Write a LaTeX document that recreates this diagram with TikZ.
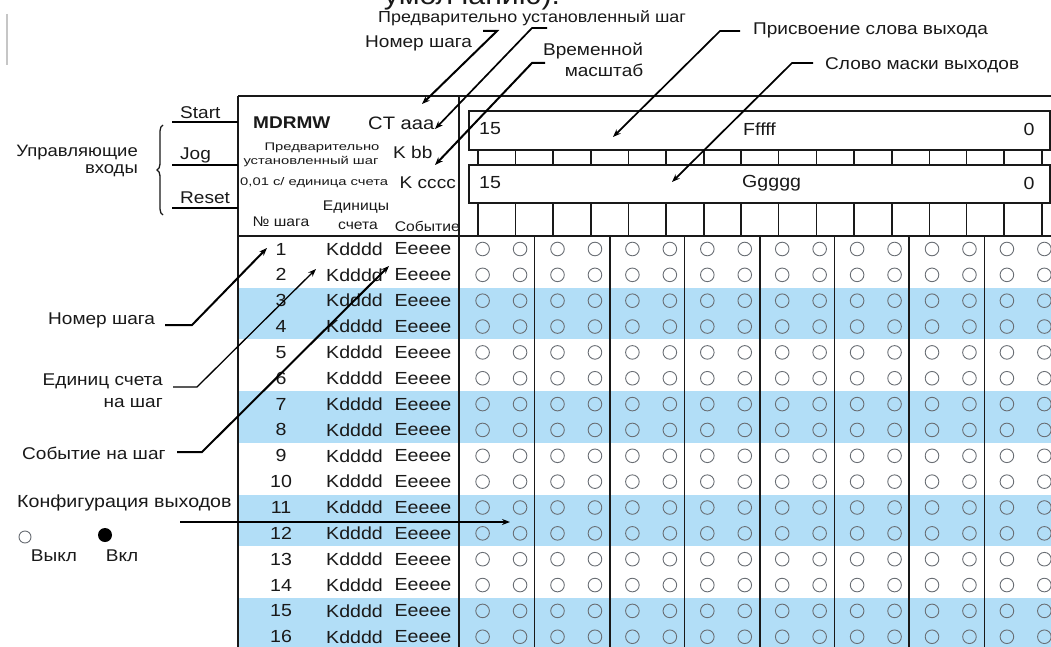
\documentclass[tikz,border=0pt]{standalone}
\usepackage{fontspec}
\setmainfont{Liberation Sans}[FakeStretch=1.12]
\usetikzlibrary{arrows.meta,decorations.pathreplacing}
\definecolor{band}{RGB}{178,222,247}
\definecolor{ink}{RGB}{25,25,25}
\definecolor{ring}{RGB}{105,110,116}
\newcommand{\widen}[1]{\scalebox{1.2}[1]{#1}}
\begin{document}
\begin{tikzpicture}[x=1pt,y=-1pt,
  lbl/.style={inner sep=0pt,text=ink,font=\fontsize{17}{19}\selectfont},
  small/.style={inner sep=0pt,text=ink,font=\fontsize{11}{12}\selectfont},
  mid/.style={inner sep=0pt,text=ink,font=\fontsize{14}{15}\selectfont},
  rowtxt/.style={inner sep=0pt,text=ink,font=\fontsize{17.5}{18}\selectfont},
  boxtxt/.style={inner sep=0pt,text=ink,font=\fontsize{17.5}{18}\selectfont},
  frame/.style={draw=ink,line width=1.1pt},
  thickline/.style={draw=ink,line width=2.2pt},
  leader/.style={draw=black,line width=2pt,-{Stealth[length=8pt,width=6pt]}},
  thinleader/.style={draw=black,line width=1.3pt,-{Stealth[length=8pt,width=6pt]}},
  plainleader/.style={draw=black,line width=2pt},
  ringc/.style={draw=ring,line width=0.9pt}
]
\useasboundingbox (0,0) rectangle (1051,647);
\clip (0,0) rectangle (1051,647);
\fill[white] (0,0) rectangle (1051,647);

% blue bands
\foreach \a in {3,7,11,15}{
  \fill[band] (239,{249+(\a-1)*25.85-12.9}) rectangle (1051,{249+\a*25.85+12.9});
}

% top cut text and grey mark
\node[inner sep=0pt,anchor=base,text=ink,font=\fontsize{27}{29}\selectfont] (topt) at (472,5) {умолчанию).};
\draw[gray!45,line width=1.5pt] (7,14) -- (7,65);

% frame
\draw[frame] (238,96) -- (1051,96);
\draw[thickline,line width=1.8pt] (238,96) -- (238,647);
\draw[frame] (459,96) -- (459,647);
\draw[frame] (238,236) -- (1051,236);

% word boxes
\draw[frame] (469,111) rectangle (1050,150);
\draw[thickline] (469,111) -- (1050,111);
\draw[frame] (469,165) rectangle (1050,203);
\draw[thickline] (469,165) -- (1050,165);
\foreach \k in {0,...,15}{
  \pgfmathtruncatemacro\m{mod(\k,4)}
  \ifnum\m>1
    \draw[ink,line width=2pt] ({478+37.6*\k},150) -- ({478+37.6*\k},165);
    \draw[ink,line width=2pt] ({478+37.6*\k},203) -- ({478+37.6*\k},236);
  \else
    \draw[ink,line width=1.1pt] ({478+37.6*\k},150) -- ({478+37.6*\k},165);
    \draw[ink,line width=1.1pt] ({478+37.6*\k},203) -- ({478+37.6*\k},236);
  \fi
}
\node[boxtxt,anchor=west] (f15) at (479,129) {15};
\node[boxtxt,anchor=west] (fw) at (743,129) {Fffff};
\node[boxtxt] (f0) at (1029,129) {0};
\node[boxtxt,anchor=west] (g15) at (479,183) {15};
\node[boxtxt,anchor=west] (gw) at (742,183) {Ggggg};
\node[boxtxt] (g0) at (1029,183) {0};

% column dividers in row area
\foreach \k in {1,...,7}{
  \pgfmathtruncatemacro\m{mod(\k,2)}
  \ifnum\m=0
    \draw[ink,line width=2pt] ({460+74.9*\k},236) -- ({460+74.9*\k},647);
  \else
    \draw[ink,line width=1.1pt] ({460+74.9*\k},236) -- ({460+74.9*\k},647);
  \fi
}

% rows
\foreach \i in {1,...,16}{
  \pgfmathsetmacro\yy{249+(\i-1)*25.85}
  \node[rowtxt] (n\i) at (281,\yy) {\i};
  \node[rowtxt,anchor=west] (k\i) at (326,\yy) {Kdddd};
  \node[rowtxt] (e\i) at (423,\yy) {Eeeee};
  \foreach \k in {0,...,15}{
    \draw[ringc] ({482.6+37.45*\k},\yy) circle[radius=6.8pt];
  }
}

% left header block
\node[inner sep=0pt,anchor=west,text=ink,font=\fontsize{17}{19}\selectfont\bfseries] (mdrmw) at (253,123) {MDRMW};
\node[inner sep=0pt,anchor=west,text=ink,font=\fontsize{18}{19}\selectfont] (ct) at (368,123) {CT aaa};
\node[small] (pre1) at (322,148) {\widen{Предварительно}};
\node[small] (pre2) at (311,162) {\widen{установленный шаг}};
\node[inner sep=0pt,anchor=west,text=ink,font=\fontsize{17}{18}\selectfont] (kbb) at (393,152) {K bb};
\node[small,anchor=west] (tb) at (240,183) {\widen{0,01 с/ единица счета}};
\node[inner sep=0pt,anchor=east,text=ink,font=\fontsize{17}{18}\selectfont] (kcc) at (456,183) {K cccc};
\node[mid] (edin) at (356,207) {Единицы};
\node[mid] (nsh) at (281,222) {№ шага};
\node[mid] (scheta) at (358,226) {счета};
\node[mid,anchor=east] (sob) at (460,226) {Событие};

% control inputs
\node[lbl,anchor=west] (start) at (180,113) {Start};
\node[lbl,anchor=west] (jog) at (180,155) {Jog};
\node[lbl,anchor=west] (reset) at (180,198) {Reset};
\coordinate (s0) at (172,122); \coordinate (s1) at (238,122);
\coordinate (j0) at (172,165); \coordinate (j1) at (238,165);
\coordinate (r0) at (172,208); \coordinate (r1) at (238,208);
\draw[plainleader] (s0) -- (s1);
\draw[plainleader] (j0) -- (j1);
\draw[plainleader] (r0) -- (r1);
\coordinate (br0) at (163,215); \coordinate (br1) at (163,125);
\draw[ink,line width=1.3pt,decorate,decoration={brace,amplitude=6pt}] (br0) -- (br1);
\node[lbl,align=right,anchor=east,font=\fontsize{16.5}{17}\selectfont] (upr) at (138,161) {Управляющие\\входы};

% top labels
\node[lbl,anchor=west,font=\fontsize{16}{18}\selectfont] (tpre) at (378,18) {Предварительно установленный шаг};
\node[lbl,anchor=west] (tnom) at (365,43) {Номер шага};
\node[lbl] (tvr1) at (593,51) {Временной};
\node[lbl] (tvr2) at (604,70) {масштаб};
\node[lbl,anchor=west] (tpris) at (753,30) {Присвоение слова выхода};
\node[lbl,anchor=west] (tslovo) at (825,65) {Слово маски выходов};

\coordinate (a1) at (483,31); \coordinate (b1) at (497,31); \coordinate (t1) at (422,104);
\draw[leader] (a1) -- (b1) -- (t1);
\coordinate (a2) at (547,28); \coordinate (b2) at (532,28); \coordinate (t2) at (435,129);
\draw[leader,line width=1.7pt] (a2) -- (b2) -- (t2);
\coordinate (a3) at (545,63); \coordinate (b3) at (532,63); \coordinate (t3) at (435,165);
\draw[leader] (a3) -- (b3) -- (t3);
\coordinate (a4) at (740,31); \coordinate (b4) at (720,31); \coordinate (t4) at (613,137);
\draw[leader,line width=1.7pt] (a4) -- (b4) -- (t4);
\coordinate (a5) at (813,63); \coordinate (b5) at (792,63); \coordinate (t5) at (672,182);
\draw[leader,line width=1.7pt] (a5) -- (b5) -- (t5);

% left labels
\node[lbl,anchor=west] (lnom) at (48,320) {Номер шага};
\node[lbl,align=right,anchor=east,font=\fontsize{17}{22}\selectfont] (ledin) at (163,391) {Единиц счета\\на шаг};
\node[lbl,anchor=west] (lsob) at (22,453) {Событие на шаг};
\node[lbl,anchor=west,font=\fontsize{17.5}{19}\selectfont] (lkonf) at (17,503) {Конфигурация выходов};

\coordinate (a6) at (165,325); \coordinate (b6) at (192,325); \coordinate (t6) at (267,248);
\draw[leader] (a6) -- (b6) -- (t6);
\coordinate (a7) at (173,387); \coordinate (b7) at (197,387); \coordinate (t7) at (316,269);
\draw[thinleader] (a7) -- (b7) -- (t7);
\coordinate (a8) at (177,452); \coordinate (b8) at (202,452); \coordinate (t8) at (389,266);
\draw[leader] (a8) -- (b8) -- (t8);
\coordinate (a9) at (180,522); \coordinate (t9) at (510,522);
\draw[leader] (a9) -- (t9);

% legend
\draw[ringc,line width=0.9pt] (25,537) circle[radius=6pt];
\fill[black] (105,535) circle[radius=7pt];
\node[lbl] (vykl) at (54,556) {Выкл};
\node[lbl] (vkl) at (122,556) {Вкл};
\end{tikzpicture}
\end{document}
